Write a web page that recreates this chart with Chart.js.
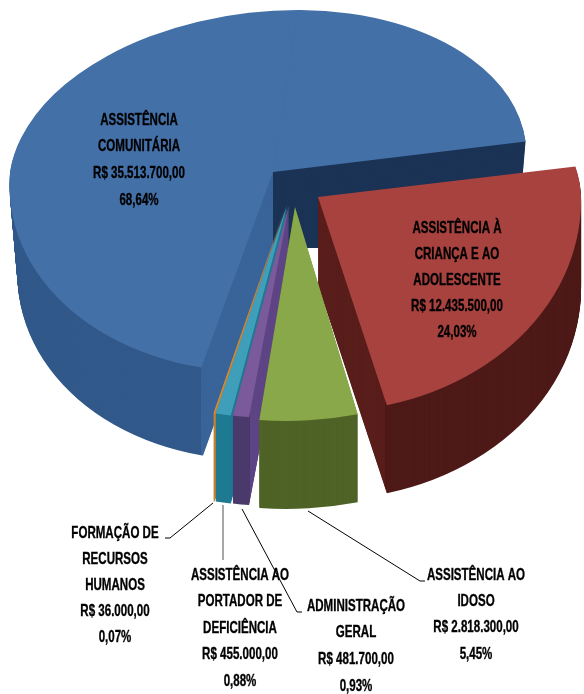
<!DOCTYPE html>
<html>
<head>
<meta charset="utf-8">
<style>
  html, body { margin: 0; padding: 0; background: #fff; }
  canvas { display: block; }
</style>
<script src="https://cdn.jsdelivr.net/npm/chart.js@4/dist/chart.umd.min.js"></script>
</head>
<body>
<canvas id="chart-area" width="584" height="694"></canvas>
<script>
var categories = ['ASSISTÊNCIA COMUNITÁRIA', 'ASSISTÊNCIA À CRIANÇA E AO ADOLESCENTE', 'ASSISTÊNCIA AO IDOSO',
	'ADMINISTRAÇÃO GERAL', 'ASSISTÊNCIA AO PORTADOR DE DEFICIÊNCIA', 'FORMAÇÃO DE RECURSOS HUMANOS'];
var values = [35513700, 12435500, 2818300, 481700, 455000, 36000];
var valueLabels = ['R$ 35.513.700,00', 'R$ 12.435.500,00', 'R$ 2.818.300,00', 'R$ 481.700,00', 'R$ 455.000,00', 'R$ 36.000,00'];
var percentLabels = ['68,64%', '24,03%', '5,45%', '0,93%', '0,88%', '0,07%'];
var nameLines = [
	['ASSISTÊNCIA', 'COMUNITÁRIA'],
	['ASSISTÊNCIA À', 'CRIANÇA E AO', 'ADOLESCENTE'],
	['ASSISTÊNCIA AO', 'IDOSO'],
	['ADMINISTRAÇÃO', 'GERAL'],
	['ASSISTÊNCIA AO', 'PORTADOR DE', 'DEFICIÊNCIA'],
	['FORMAÇÃO DE', 'RECURSOS', 'HUMANOS']
];

var topColors = ['#4470a8', '#a8423f', '#89a84a', '#7b5a9b', '#3f9fbb', '#d98b3c'];

// fake 3d: each slice is the chart's own arc drawn through a squashed transform
var radius = 263;
var depth = 88;
var drawOrder = [0, 1, 5, 4, 3, 2];
// x,y apex, sx width factor, back/front half heights and shears, backRightX narrows the far right,
// taper narrows the wall towards its bottom
var view = [
	{x: 273, y: 172, sx: 1, backY: 162, backC: -25, frontY: 200, frontC: -17, backRightX: 0.96, taper: 0.03},
	{x: 318, y: 197, sx: 1, backY: 162, backC: 5, frontY: 215, frontC: 4},
	{x: 295, y: 207, sx: 1.1, backY: 162, backC: 0, frontY: 214, frontC: -9},
	{x: 289, y: 205, sx: 1.07, backY: 162, backC: 0, frontY: 213, frontC: -14},
	{x: 287, y: 205, sx: 1.07, backY: 162, backC: 0, frontY: 213, frontC: -14},
	{x: 286, y: 205, sx: 1.07, backY: 162, backC: 0, frontY: 213, frontC: -14}
];
// wall colours by x band, left to right
var wallBands = [
	[{to: 201, color: '#32598a'}, {to: 273, color: '#3a659a'}, {to: 600, color: '#1b3355', maxY: 248}],
	[{to: 385, color: '#5a1f1c'}, {to: 600, color: '#4e1a18'}],
	[{to: 600, color: '#4f6327'}],
	[{to: 250, color: '#4b3a6c'}, {to: 600, color: '#5f4686'}],
	[{to: 600, color: '#1f7a92'}],
	[{to: 600, color: '#c9802f'}]
];

var labelPos = [
	{x: 139, y: 120, gap: 26.7},
	{x: 457, y: 228, gap: 26.2},
	{x: 476, y: 575, gap: 26.4},
	{x: 356, y: 606, gap: 26.9},
	{x: 240, y: 575, gap: 26.5},
	{x: 115, y: 533, gap: 26}
];
var textSqueeze = 0.7;
var leaders = [
	{color: '#000', width: 1, pts: [[308, 511], [420, 581], [425, 581]]},
	{color: '#000', width: 1, pts: [[242, 509], [297, 612], [302, 612]]},
	{color: '#8a8a8a', width: 1.5, pts: [[223, 505], [223, 560]]},
	{color: '#000', width: 1, pts: [[213, 503], [170, 538], [165, 538]]}
];

function drawPart(ctx, arc, v, oy, sx, b, c, rect) {
	var r = radius;
	ctx.save();
	ctx.translate(v.x, v.y + oy);
	ctx.transform(sx, 0, c / r, b / r, 0, 0);
	ctx.beginPath();
	ctx.rect(rect[0], rect[1], rect[2], rect[3]);
	ctx.clip();
	ctx.translate(-arc.x, -arc.y);
	arc.draw(ctx);
	ctx.restore();
}

function drawArcAt(ctx, arc, v, oy, color) {
	var keep = arc.options;
	arc.options = Object.assign({}, keep, {backgroundColor: color, borderColor: color, borderWidth: 0});
	var big = 2000;
	var rightX = v.backRightX || 1;
	var sx = v.sx * (1 - (v.taper || 0) * oy / depth);
	drawPart(ctx, arc, v, oy, sx, v.backY, v.backC, [-big, -big, big + 0.5, big]);
	drawPart(ctx, arc, v, oy, sx * rightX, v.backY, v.backC, [0, -big, big, big]);
	drawPart(ctx, arc, v, oy, sx, v.frontY, v.frontC, [-big, 0, 2 * big, big]);
	arc.options = keep;
}

var pie3d = {
	id: 'pie3d',
	beforeDatasetsDraw: function(chart) {
		var ctx = chart.ctx;
		var arcs = chart.getDatasetMeta(0).data;
		drawOrder.forEach(function(i) {
			var arc = arcs[i];
			var left = -100;
			wallBands[i].forEach(function(band) {
				ctx.save();
				ctx.beginPath();
				ctx.rect(left, -100, band.to - left, (band.maxY || 900) + 100);
				ctx.clip();
				for (var d = depth; d > 0; d--) {
					drawArcAt(ctx, arc, view[i], d, band.color);
				}
				ctx.restore();
				left = band.to;
			});
			drawArcAt(ctx, arc, view[i], 0, topColors[i]);
		});
		return false;
	},
	afterDraw: function(chart) {
		var ctx = chart.ctx;
		ctx.save();
		leaders.forEach(function(l) {
			ctx.strokeStyle = l.color;
			ctx.lineWidth = l.width;
			ctx.beginPath();
			l.pts.forEach(function(p, k) {
				if (k === 0) ctx.moveTo(p[0], p[1]); else ctx.lineTo(p[0], p[1]);
			});
			ctx.stroke();
		});
		ctx.fillStyle = '#000';
		ctx.strokeStyle = '#000';
		ctx.lineWidth = 0.35;
		ctx.font = 'bold 16.5px "Liberation Sans"';
		ctx.textAlign = 'center';
		ctx.textBaseline = 'middle';
		categories.forEach(function(c, i) {
			var lines = nameLines[i].concat([valueLabels[i], percentLabels[i]]);
			lines.forEach(function(t, k) {
				ctx.save();
				ctx.translate(labelPos[i].x, labelPos[i].y + k * labelPos[i].gap);
				ctx.scale(textSqueeze, 1);
				ctx.fillText(t, 0, 0);
				ctx.strokeText(t, 0, 0);
				ctx.restore();
			});
		});
		ctx.restore();
	}
};

var config = {
	type: 'pie',
	data: {
		labels: categories,
		datasets: [{
			data: values,
			backgroundColor: topColors,
			borderWidth: 0
		}]
	},
	options: {
		responsive: false,
		animation: false,
		radius: radius,
		rotation: 192.07,
		plugins: {
			legend: {display: false},
			tooltip: {enabled: false}
		}
	},
	plugins: [pie3d]
};

window.onload = function() {
	var ctx = document.getElementById('chart-area').getContext('2d');
	window.myPie = new Chart(ctx, config);
};
</script>
</body>
</html>
